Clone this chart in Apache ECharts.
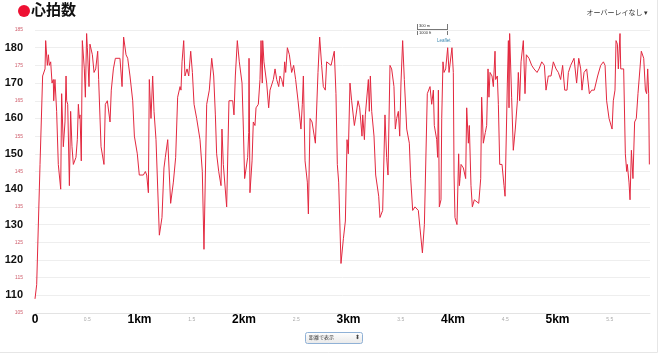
<!DOCTYPE html>
<html>
<head>
<meta charset="utf-8">
<title>心拍数</title>
<script src="https://cdn.jsdelivr.net/npm/echarts@6/dist/echarts.min.js"></script>
<style>
  html, body { margin: 0; padding: 0; background: #fff; }
  #hr_chart { width: 660px; height: 354px; }
</style>
</head>
<body>
<div id="hr_chart"></div>
<script>
// 距離 (km)
const distKm = [
  0, 0.016, 0.048, 0.073, 0.096, 0.102, 0.118, 0.128, 0.137, 0.150, 0.163, 0.175, 0.179, 0.191, 0.207, 0.223,
  0.246, 0.255, 0.271, 0.287, 0.297, 0.303, 0.313, 0.329, 0.341, 0.354, 0.367, 0.392, 0.405, 0.415, 0.424, 0.431,
  0.443, 0.453, 0.472, 0.482, 0.494, 0.501, 0.517, 0.526, 0.549, 0.565, 0.581, 0.600, 0.609, 0.622, 0.632, 0.660,
  0.673, 0.692, 0.718, 0.730, 0.750, 0.769, 0.813, 0.833, 0.848, 0.871, 0.887, 0.909, 0.935, 0.951, 0.979, 0.998,
  1.037, 1.056, 1.069, 1.085, 1.094, 1.110, 1.126, 1.139, 1.158, 1.190, 1.215, 1.234, 1.247, 1.270, 1.298, 1.324,
  1.346, 1.365, 1.388, 1.397, 1.407, 1.423, 1.435, 1.455, 1.471, 1.490, 1.506, 1.522, 1.547, 1.579, 1.601, 1.617,
  1.643, 1.668, 1.691, 1.710, 1.726, 1.738, 1.758, 1.780, 1.789, 1.802, 1.818, 1.834, 1.856, 1.866,
  1.892, 1.904, 1.917, 1.936, 1.955, 1.981, 1.994, 2.006, 2.016, 2.035, 2.045, 2.048, 2.057, 2.077, 2.089, 2.105,
  2.115, 2.137, 2.153, 2.163, 2.175, 2.179, 2.191, 2.217, 2.236, 2.249, 2.268, 2.281, 2.297, 2.313, 2.332, 2.344,
  2.360, 2.376, 2.389, 2.399, 2.415, 2.434, 2.456, 2.475, 2.494, 2.517, 2.545, 2.558, 2.568, 2.584, 2.606, 2.616,
  2.632, 2.651, 2.683, 2.708, 2.724, 2.743, 2.759, 2.778, 2.791, 2.810, 2.833, 2.864, 2.880, 2.893, 2.906, 2.928,
  2.951, 2.970, 2.986, 2.998, 3.014, 3.030, 3.046, 3.056, 3.072, 3.091, 3.107, 3.129, 3.136, 3.152, 3.161, 3.174,
  3.190, 3.199, 3.209, 3.222, 3.244, 3.260, 3.276, 3.289, 3.301, 3.327, 3.349, 3.365, 3.378, 3.397, 3.413, 3.435,
  3.448, 3.461, 3.477, 3.490, 3.502, 3.518, 3.534, 3.557, 3.582, 3.595, 3.614, 3.636, 3.652, 3.668, 3.684, 3.707,
  3.726, 3.754, 3.780,
  3.796, 3.812, 3.821, 3.844, 3.853, 3.860, 3.869, 3.885, 3.892, 3.904, 3.914, 3.930, 3.949, 3.962, 3.981, 3.990,
  4.003, 4.010, 4.019, 4.038, 4.054, 4.061, 4.067, 4.077, 4.099, 4.121, 4.131, 4.147, 4.156, 4.172, 4.185, 4.204,
  4.220, 4.246, 4.265, 4.274, 4.290, 4.309, 4.322, 4.335, 4.344, 4.354, 4.373, 4.386, 4.402, 4.408, 4.424, 4.434,
  4.447, 4.469, 4.488, 4.498, 4.520, 4.530, 4.536, 4.542, 4.561, 4.577, 4.596, 4.616, 4.625, 4.638, 4.651, 4.673,
  4.689, 4.702, 4.727, 4.753, 4.775, 4.804, 4.823, 4.849, 4.874, 4.890, 4.912, 4.938, 4.960, 4.986, 5.008, 5.030,
  5.049, 5.069, 5.091, 5.104, 5.126, 5.158, 5.183, 5.203, 5.222, 5.234, 5.254, 5.279, 5.305, 5.327, 5.352, 5.384,
  5.413, 5.439, 5.455, 5.470, 5.493, 5.509, 5.522, 5.534, 5.550, 5.560, 5.573, 5.582, 5.598, 5.605, 5.633, 5.649,
  5.662, 5.668, 5.684, 5.694, 5.707, 5.722, 5.738, 5.754, 5.770, 5.786, 5.802, 5.825, 5.841, 5.853, 5.863, 5.872,
  5.879
]
// 心拍数 (bpm)
const bpm = [
  109, 113, 147, 172, 174, 182, 175, 178, 175, 176, 170, 171, 165, 171, 162, 147,
  140, 167, 152, 159, 172, 165, 164, 141, 162, 152, 147, 149, 154, 164, 160, 161,
  148, 182, 174, 166, 184, 180, 169, 181, 178, 173, 174, 179, 171, 171, 152, 147,
  164, 165, 159, 168, 174, 177, 177, 169, 183, 178, 177, 172, 165, 155, 150, 144,
  144, 145, 144, 139, 171, 160, 172, 162, 154, 127, 132, 146, 149, 154, 136, 142,
  149, 166, 169, 168, 176, 182, 172, 174, 172, 179, 173, 164, 160, 154, 145, 123,
  164, 168, 177, 172, 161, 150, 145, 141, 157, 147, 147, 135, 165, 165,
  165, 161, 172, 182, 176, 170, 157, 143, 143, 149, 156, 177, 139, 148, 159, 158,
  163, 164, 171, 182, 170, 182, 176, 170, 163, 168, 168, 171, 174, 171, 169, 172,
  171, 169, 176, 173, 180, 178, 173, 175, 171, 165, 157, 164, 172, 148, 142, 133,
  160, 159, 153, 173, 183, 175, 169, 168, 176, 176, 175, 179, 167, 147, 142, 119,
  126, 131, 154, 150, 170, 165, 165, 158, 161, 165, 163, 155, 161, 154, 161, 161,
  171, 162, 172, 162, 155, 144, 144, 138, 132, 134, 161, 149, 144, 175, 174, 169,
  157, 160, 162, 155, 170, 182, 171, 157, 153, 143, 134, 135, 135, 134, 129, 122,
  130, 167, 169,
  164, 168, 158, 154, 149, 168, 135, 137, 160, 176, 173, 174, 180, 173, 173, 180,
  173, 144, 132, 130, 150, 141, 143, 147, 146, 143, 163, 153, 158, 141, 135, 137,
  137, 136, 143, 166, 153, 156, 158, 174, 166, 173, 172, 169, 179, 171, 172, 164,
  147, 147, 141, 138, 170, 182, 163, 184, 166, 151, 157, 165, 173, 165, 176, 182,
  167, 178, 177, 175, 174, 173, 174, 176, 175, 168, 172, 172, 176, 174, 173, 171,
  175, 168, 168, 173, 175, 177, 170, 177, 174, 168, 173, 174, 167, 168, 168, 172,
  175, 176, 175, 165, 160, 160, 157, 165, 168, 182, 181, 174, 184, 174, 174, 150,
  145, 147, 142, 137, 151, 143, 159, 160, 167, 167, 179, 177, 168, 167, 174, 167,
  147
]
const yMin = 105
const yMax = 185
const xMax = 5.885

const chartInstance = echarts.init(document.getElementById('hr_chart'))
const seriesData = distKm.map((d, i) => [d, bpm[i]])

const option = {
  animation: false,
  backgroundColor: '#fff',
  grid: { left: 35, right: 10, top: 30, bottom: 41 },
  xAxis: {
    type: 'value',
    min: 0,
    max: xMax,
    interval: 0.5,
    axisTick: { show: false },
    axisLine: { lineStyle: { color: '#e3e3e3', width: 1 } },
    splitLine: { show: false },
    axisLabel: {
      margin: 1,
      showMaxLabel: false,
      verticalAlign: 'top',
      formatter: (v) => {
        if (v === 0) return '{b|0}'
        if (Number.isInteger(v)) return '{b|' + v + 'km}'
        return '{s|' + v + '}'
      },
      rich: {
        b: { fontSize: 12, fontWeight: 'bold', color: '#000', fontFamily: 'Liberation Sans, Arial', padding: [0, 0, 0, 0] },
        s: { fontSize: 5, color: '#aaa', fontFamily: 'Liberation Sans, Arial', padding: [3, 0, 0, 0] }
      }
    }
  },
  yAxis: {
    type: 'value',
    min: yMin,
    max: yMax,
    interval: 5,
    axisTick: { show: false },
    axisLine: { show: false },
    splitLine: { lineStyle: { color: '#eeeeee', width: 1 } },
    axisLabel: {
      margin: 12,
      formatter: (v) => (v % 10 === 0 ? '{b|' + v + '}' : '{s|' + v + '}'),
      rich: {
        b: { fontSize: 11, fontWeight: 'bold', color: '#111', fontFamily: 'Liberation Sans, Arial' },
        s: { fontSize: 5, color: '#d0606e', fontFamily: 'Liberation Sans, Arial' }
      }
    }
  },
  series: [
    {
      type: 'line',
      data: seriesData,
      showSymbol: false,
      lineStyle: { color: '#e3283f', width: 1 },
      z: 3
    }
  ],
  graphic: [
    // 枠
    { type: 'line', shape: { x1: 657.5, y1: 0, x2: 657.5, y2: 352.5 }, style: { stroke: '#e6e6e6', lineWidth: 1 } },
    { type: 'line', shape: { x1: 0, y1: 352.5, x2: 657.5, y2: 352.5 }, style: { stroke: '#e6e6e6', lineWidth: 1 } },
    // タイトル
    { type: 'circle', shape: { cx: 24, cy: 11, r: 6 }, style: { fill: '#ee1133' } },
    { type: 'text', left: 31, top: 2, style: { text: '心拍数', fontSize: 15, fontWeight: 'bold', fill: '#111', fontFamily: 'Noto Sans CJK JP' } },
    // オーバーレイ
    { type: 'text', right: 12, top: 9, style: { text: 'オーバーレイなし ▾', fontSize: 7, fill: '#333', fontFamily: 'Noto Sans CJK JP' } },
    // Leaflet スケール
    { type: 'polyline', shape: { points: [[417.5, 24], [417.5, 35]] }, style: { stroke: '#777', lineWidth: 1 } },
    { type: 'polyline', shape: { points: [[417.5, 29.5], [447.5, 29.5]] }, style: { stroke: '#777', lineWidth: 1 } },
    { type: 'polyline', shape: { points: [[447.5, 24], [447.5, 35]] }, style: { stroke: '#777', lineWidth: 1 } },
    { type: 'text', left: 419, top: 24, style: { text: '300 m', fontSize: 4, fill: '#333' } },
    { type: 'text', left: 419, top: 30.5, style: { text: '1000 ft', fontSize: 4, fill: '#333' } },
    { type: 'text', left: 437, top: 38, style: { text: 'Leaflet', fontSize: 4.5, fill: '#3a87b0' } },
    // 表示切替
    {
      type: 'rect', shape: { x: 305.5, y: 332.5, width: 57, height: 11, r: 2 },
      style: {
        stroke: '#8fb1d6', lineWidth: 1,
        fill: new echarts.graphic.LinearGradient(0, 0, 0, 1, [
          { offset: 0, color: '#ffffff' }, { offset: 1, color: '#e8e8e8' }
        ])
      }
    },
    { type: 'text', left: 309, top: 335, style: { text: '距離で表示', fontSize: 5, fill: '#333', fontFamily: 'Noto Sans CJK JP' } },
    { type: 'text', left: 355, top: 334.5, style: { text: '⬍', fontSize: 6, fill: '#444' } }
  ]
}
chartInstance.setOption(option)
</script>
</body>
</html>
